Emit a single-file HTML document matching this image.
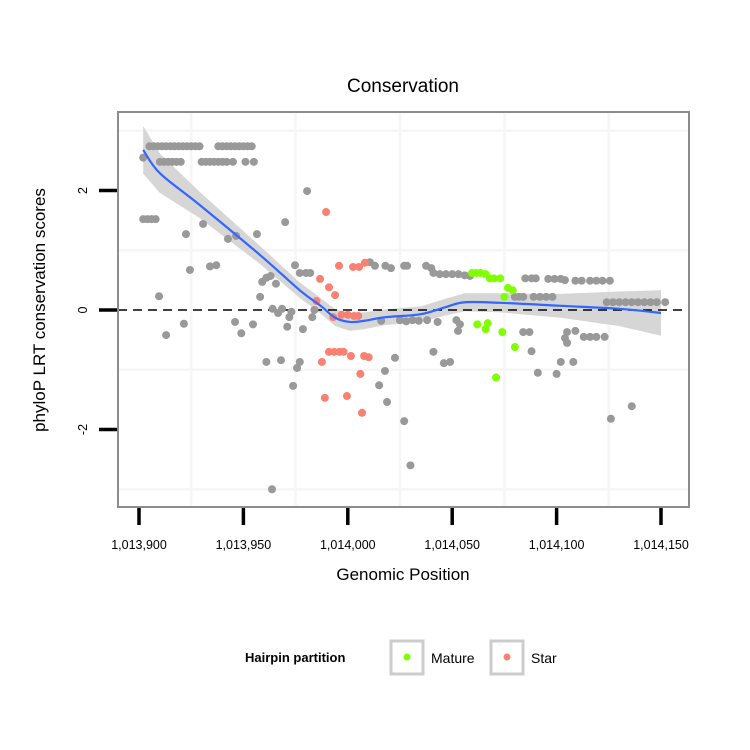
<!DOCTYPE html>
<html><head><meta charset="utf-8">
<style>
html,body{margin:0;padding:0;background:#fff;}
svg{display:block;font-family:"Liberation Sans",sans-serif;}
</style></head>
<body>
<svg id="chart" width="750" height="750" viewBox="0 0 750 750">
  <text x="403" y="92" font-size="19" text-anchor="middle">Conservation</text>
  <rect x="118" y="112" width="571" height="395" fill="#fff"/>
  <g id="grid"></g>
  <g id="band"></g>
  <line x1="118" x2="689" y1="310" y2="310" stroke="#000" stroke-width="1.6" stroke-dasharray="9,6"/>
  <g id="pts"></g>
  <g id="fit"></g>
  <rect x="118" y="112" width="571" height="395" fill="none" stroke="#8c8c8c" stroke-width="2"/>
  <g id="axes"></g>
  <text x="403" y="580" font-size="17" text-anchor="middle">Genomic Position</text>
  <text transform="translate(45,310) rotate(-90)" font-size="17" text-anchor="middle">phyloP LRT conservation scores</text>
  <g>
    <text x="245" y="662" font-size="13" font-weight="bold">Hairpin partition</text>
    <g>
      <rect x="391" y="641" width="32" height="33" fill="#fff" stroke="#cccccc" stroke-width="3"/>
      <circle cx="407" cy="657" r="3.5" fill="#7fff00"/>
      <text x="431" y="663" font-size="14">Mature</text>
    </g>
    <g>
      <rect x="491" y="641" width="32" height="33" fill="#fff" stroke="#cccccc" stroke-width="3"/>
      <circle cx="507" cy="657" r="3.5" fill="#fa8072"/>
      <text x="531" y="663" font-size="14">Star</text>
    </g>
  </g>
</svg>
<script>
const xTicks=[1013900,1013950,1014000,1014050,1014100,1014150];
const xTickLabels=["1,013,900","1,013,950","1,014,000","1,014,050","1,014,100","1,014,150"];
const yTicks=[-2,0,2];
const yTickLabels=["-2","0","2"];
const xGrid=[1013925,1013975,1014025,1014075,1014125];
const yGrid=[-3,-1,1,3];
const greyPos=[1013905,1013907,1013909,1013911,1013913,1013915,1013917,1013919,1013921,1013923,1013925,1013927,1013929,1013938,1013940,1013942,1013944,1013946,1013948,1013950,1013952,1013954,
1013902,1013910,1013912,1013914,1013916,1013918,1013920,1013930,1013932,1013934,1013936,1013938,1013940,1013942,1013945,1013951,1013955,
1013902,1013904,1013906,1013908,1013922.5,1013930.7,1013942.6,1013946.5,1013956.5,1013970,1013980.5,1013924.4,1013934,1013937,1013909.6,1013913,1013921.5,1013946,1013949,1013954.6,1013958,1013959,1013961,1013963,1013965.6,1013974.7,1013977,1013980,1013982,1013964,1013966.6,1013968.5,1013972,1013973,1013971,1013978.5,1013983,1013984,1013961,1013968,1013977,1013975.7,1013973.8,1013963.7,
1014010.6,1014013,1014018,1014020.7,1014027,1014022.6,1014017.8,1014015,1014018.8,1014027,1014030,1014016,1014025,
1014028.4,1014037.5,1014040,1014041,1014044,1014047,1014050,1014053,1014056,1014058.5,1014085,1014088,1014090,1014096,1014099,1014102,1014104,1014109,1014112,1014116,1014119,1014122,1014125.5,
1014080,1014082,1014084,1014089,1014092,1014095,1014098,1014124,1014127,1014130,1014133,1014136,1014139,1014142,1014145,1014148,1014152,
1014025,1014028,1014031,1014034,1014038,1014043,1014052,1014053.7,1014052.8,1014084,1014087,1014088,1014105,1014109,1014104,1014105,1014113,1014116,1014119,1014123,1014041,1014046,1014049,1014102,1014108,1014091,1014100,1014126,1014136];
const greyVal=[2.74,2.74,2.74,2.74,2.74,2.74,2.74,2.74,2.74,2.74,2.74,2.74,2.74,2.74,2.74,2.74,2.74,2.74,2.74,2.74,2.74,2.74,
2.55,2.48,2.48,2.48,2.48,2.48,2.48,2.48,2.48,2.48,2.48,2.48,2.48,2.48,2.48,2.48,2.48,
1.52,1.52,1.52,1.52,1.27,1.44,1.19,1.24,1.27,1.47,1.99,0.67,0.73,0.75,0.23,-0.42,-0.23,-0.2,-0.39,-0.24,0.22,0.47,0.54,0.57,0.44,0.75,0.62,0.62,0.62,0.02,-0.05,0.02,-0.12,-0.03,-0.28,-0.32,-0.12,0,-0.87,-0.84,-0.87,-0.97,-1.27,-3.0,
0.8,0.74,0.74,0.7,0.74,-0.8,-1.02,-1.26,-1.54,-1.86,-2.6,-0.18,-0.17,
0.74,0.74,0.7,0.62,0.6,0.6,0.6,0.6,0.58,0.57,0.53,0.53,0.53,0.52,0.52,0.52,0.5,0.49,0.49,0.49,0.49,0.49,0.49,
0.22,0.22,0.22,0.22,0.22,0.22,0.22,0.13,0.13,0.13,0.13,0.13,0.13,0.13,0.13,0.13,0.13,
-0.17,-0.19,-0.17,-0.18,-0.17,-0.2,-0.17,-0.24,-0.35,-0.37,-0.37,-0.69,-0.37,-0.35,-0.47,-0.55,-0.45,-0.45,-0.45,-0.45,-0.7,-0.89,-0.87,-0.87,-0.87,-1.05,-1.07,-1.82,-1.61];
const starPos=[1013989.6,1013995.8,1014002.5,1014005.4,1014008.2,1013986.7,1013991,1013993.9,1013985,1013993,1013997,1014000,1014003,1014005,1013991,1013993.5,1013996,1013998,1014001.5,1014007.8,1014010,1013987.6,1014006,1013989,1013999.6,1014006.8];
const starVal=[1.64,0.74,0.72,0.72,0.79,0.52,0.38,0.25,0.15,-0.12,-0.08,-0.08,-0.1,-0.1,-0.7,-0.7,-0.7,-0.7,-0.77,-0.77,-0.79,-0.87,-1.07,-1.47,-1.44,-1.72];
const maturePos=[1014059.5,1014061.5,1014063.5,1014066,1014068,1014070,1014073,1014076.7,1014079,1014075,1014062,1014067,1014066,1014074,1014080,1014071];
const matureVal=[0.62,0.62,0.62,0.6,0.53,0.53,0.53,0.37,0.33,0.22,-0.24,-0.22,-0.32,-0.37,-0.62,-1.13];
const fitPos=[1013902,1013910,1013929,1013958,1013977,1013987,1013994,1014001,1014008,1014018,1014035,1014047,1014056,1014073,1014102,1014130,1014150];
const fitVal=[2.68,2.29,1.76,0.92,0.33,0.07,-0.13,-0.2,-0.18,-0.12,-0.07,0.05,0.13,0.12,0.07,0.02,-0.05];
const fitSe=[0.4,0.33,0.22,0.15,0.13,0.13,0.14,0.15,0.14,0.13,0.13,0.14,0.15,0.16,0.2,0.29,0.38];

const NS="http://www.w3.org/2000/svg";
const X=v=>139+(v-1013900)*2.088;
const Y=v=>310-v*59.75;
function mk(tag,attrs,parent){const e=document.createElementNS(NS,tag);for(const k in attrs)e.setAttribute(k,attrs[k]);parent.appendChild(e);return e;}
const grid=document.getElementById('grid');
xGrid.forEach(v=>{const l=mk('line',{x1:X(v),x2:X(v),y1:112,y2:507,stroke:'#f6f6f6','stroke-width':2.5},grid);

});
yGrid.forEach(v=>{const l=mk('line',{x1:118,x2:689,y1:Y(v),y2:Y(v),stroke:'#f6f6f6','stroke-width':2.5},grid);

});
let up=fitPos.map((p,i)=>X(p)+','+Y(fitVal[i]+fitSe[i]));
let lo=fitPos.map((p,i)=>X(p)+','+Y(fitVal[i]-fitSe[i])).reverse();
const band=mk('polygon',{points:up.concat(lo).join(' '),fill:'#d6d6d6'},document.getElementById('band'));


const pts=document.getElementById('pts');
function dots(P,V,col,name){P.forEach((p,i)=>{const c=mk('circle',{cx:X(p),cy:Y(V[i]),r:4,fill:col},pts);

});}
dots(greyPos,greyVal,'#999999','point-other');
dots(starPos,starVal,'#fa8072','point-star');
dots(maturePos,matureVal,'#7fff00','point-mature');
const pp=fitPos.map((p,i)=>[X(p),Y(fitVal[i])]);
let d='M'+pp[0][0]+','+pp[0][1];
for(let i=0;i<pp.length-1;i++){const p0=pp[i-1]||pp[i],p1=pp[i],p2=pp[i+1],p3=pp[i+2]||p2;
d+=' C'+(p1[0]+(p2[0]-p0[0])/6)+','+(p1[1]+(p2[1]-p0[1])/6)+' '+(p2[0]-(p3[0]-p1[0])/6)+','+(p2[1]-(p3[1]-p1[1])/6)+' '+p2[0]+','+p2[1];}
const fl=mk('path',{d:d,fill:'none',stroke:'#3366ff','stroke-width':2.2},document.getElementById('fit'));


const axes=document.getElementById('axes');
xTicks.forEach((v,i)=>{const t=mk('line',{x1:X(v),x2:X(v),y1:508,y2:525,stroke:'#000','stroke-width':3.5},axes);


const tx=mk('text',{x:X(v),y:549,'font-size':12.5,'text-anchor':'middle'},axes);tx.textContent=xTickLabels[i];

});
yTicks.forEach((v,i)=>{const t=mk('line',{x1:99,x2:117,y1:Y(v),y2:Y(v),stroke:'#000','stroke-width':3.5},axes);


const tx=mk('text',{transform:'translate(87,'+Y(v)+') rotate(-90)','font-size':12.5,'text-anchor':'middle'},axes);tx.textContent=yTickLabels[i];

});
</script>
</body></html>
